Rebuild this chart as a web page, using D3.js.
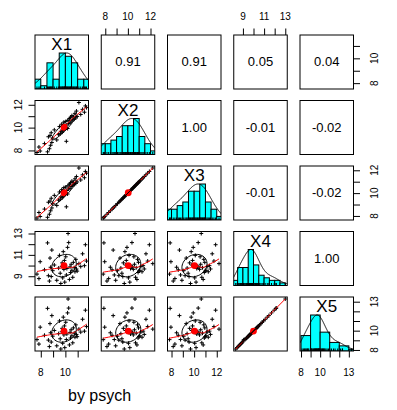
<!DOCTYPE html>
<html><head><meta charset="utf-8">
<script src="https://cdn.jsdelivr.net/npm/d3@7"></script>
<style>body{margin:0;background:#fff} svg text{font-family:"Liberation Sans",Arial,sans-serif}</style>
</head><body><svg id="c" width="397" height="410"></svg>
<script>
const varNames = ["X1","X2","X3","X4","X5"];
const X1 = [7.69,7.85,7.95,8.3,8.55,8.62,8.7,8.75,8.8,8.85,8.9,8.97,9.1,9.3,9.45,9.52,9.58,9.63,9.7,9.74,9.78,9.83,9.88,9.92,9.95,9.98,10.03,10.08,10.12,10.18,10.22,10.27,10.33,10.38,10.42,10.47,10.53,10.6,10.65,10.72,10.78,10.85,10.9,10.96,11.1,11.25,11.4,11.55,11.63,11.72];
const X2 = [7.82,8.3,7.95,8.6,7.88,9.2,8.15,9.3,8.45,9.55,8.7,9.08,9.8,8.92,9.38,10.1,9.47,9.68,10.3,9.6,10.05,9.74,10.48,9.86,10.17,9.97,10.53,8.8,10.23,9.92,10.63,10.36,10.8,10.42,10.9,10.58,11.05,10.68,10.94,10.74,11.25,10.85,11.45,10.98,12.2,11.15,11.6,11.35,11.9,11.75];
const X3 = [7.82,8.3,7.95,8.6,7.88,9.2,8.15,9.3,8.45,9.55,8.7,9.08,9.8,8.92,9.38,10.1,9.47,9.68,10.3,9.6,10.05,9.74,10.48,9.86,10.17,9.97,10.53,8.8,10.23,9.92,10.63,10.36,10.8,10.42,10.9,10.58,11.05,10.68,10.94,10.74,11.25,10.85,11.45,10.98,12.2,11.15,11.6,11.35,11.9,11.75];
const X4 = [9.2,8.78,10.36,9.6,12.12,9.05,8.55,10.7,9.84,8.97,11.45,9.52,10.05,8.62,9.76,10.95,9.28,8.32,9.93,10.25,8.85,11.3,9.64,10.48,8.45,9.96,10.82,9.12,9.72,11.7,13.0,12.15,8.7,9.87,9.35,10.12,9.56,8.9,10.3,9.8,9.42,10.58,9.68,9.48,10.18,9.9,11.1,9.99,11.95,10.42];
const X5 = [9.07,8.61,10.36,9.52,12.31,9.02,8.35,10.73,9.78,8.82,11.56,9.43,10.02,8.43,9.69,11.01,9.16,8.10,9.88,10.24,8.69,11.40,9.56,10.49,8.24,9.92,10.87,9.08,9.65,11.84,13.28,12.34,8.52,9.82,9.24,10.09,9.47,8.74,10.29,9.74,9.32,10.60,9.61,9.38,10.16,9.85,11.18,9.95,12.12,10.42];
const corText = [
  ["", "0.91", "0.91", "0.05", "0.04"],
  ["", "", "1.00", "-0.01", "-0.02"],
  ["", "", "", "-0.01", "-0.02"],
  ["", "", "", "", "1.00"],
  ["", "", "", "", ""]
];
const tickValues = [[8,9,10,11],[8,9,10,11,12],[8,9,10,11,12],[9,10,11,12,13],[8,9,10,11,12,13]];
const tickLabels = [[8,10],[8,10,12],[8,10,12],[9,11,13],[8,10,13]];
const footer = "by psych";

const data = [X1,X2,X3,X4,X5];
const N = data.length;
const X0 = 35, Y0 = 35, PW = 53.5, PH = 54, DX = 66.25, DY = 65.5;

const svg = d3.select("#c");
svg.append("rect").attr("width",397).attr("height",410).attr("fill","#fff");

const xS = data.map(v => { const [a,b] = d3.extent(v); const r=b-a; return d3.scaleLinear([a-0.04*r, b+0.04*r],[0,PW]); });
const yS = data.map(v => { const [a,b] = d3.extent(v); const r=b-a; return d3.scaleLinear([a-0.04*r, b+0.04*r],[PH,0]); });
const yH = d3.scaleLinear([0,1.5],[PH,0]);

function cor(a,b){const ma=d3.mean(a),mb=d3.mean(b);let sab=0,saa=0,sbb=0;for(let i=0;i<a.length;i++){sab+=(a[i]-ma)*(b[i]-mb);saa+=(a[i]-ma)**2;sbb+=(b[i]-mb)**2;}return sab/Math.sqrt(saa*sbb);}
function lowess(xs, ys, f=2/3, iter=3){
  const n=xs.length;
  const order=d3.range(n).sort((a,b)=>xs[a]-xs[b]);
  const x=order.map(i=>xs[i]), y=order.map(i=>ys[i]);
  const ns=Math.max(2, Math.min(n, Math.floor(f*n+1e-7)));
  let rw=new Array(n).fill(1); const fit=new Array(n).fill(0);
  for(let it=0; it<=iter; it++){
    for(let i=0;i<n;i++){
      const d=x.map(v=>Math.abs(v-x[i]));
      const h=Math.max(d.slice().sort((a,b)=>a-b)[ns-1], 1e-9);
      let sw=0,sx=0,sy=0; const w=new Array(n);
      for(let j=0;j<n;j++){const r=d[j]/h;let wj=r<1?Math.pow(1-r*r*r,3):0;wj*=rw[j];w[j]=wj;sw+=wj;sx+=wj*x[j];sy+=wj*y[j];}
      if(sw<=0){fit[i]=y[i];continue;}
      const mx=sx/sw,my=sy/sw;let sxx=0,sxy=0;
      for(let j=0;j<n;j++){sxx+=w[j]*(x[j]-mx)**2;sxy+=w[j]*(x[j]-mx)*(y[j]-my);}
      const b=sxx>1e-12?sxy/sxx:0; fit[i]=my+b*(x[i]-mx);
    }
    if(it===iter) break;
    const res=y.map((v,i)=>v-fit[i]);
    const m=d3.median(res.map(Math.abs));
    if(!(m>1e-12)) break;
    rw=res.map(r=>{const u=r/(6*m);return Math.abs(u)<1?(1-u*u)**2:0;});
  }
  return x.map((v,i)=>[v,fit[i]]);
}
function density(x){
  const s=d3.deviation(x), q1=d3.quantile(x,0.25), q3=d3.quantile(x,0.75);
  const bw=1.06*Math.min(s,(q3-q1)/1.34)*Math.pow(x.length,-0.2)*1.2;
  const [a,b]=d3.extent(x); const lo=a-3*bw, hi=b+3*bw;
  const pts=d3.range(512).map(k=>{const g=lo+(hi-lo)*k/511;let sum=0;for(const v of x){const u=(g-v)/bw;sum+=Math.exp(-0.5*u*u);}return [g,sum];});
  const mx=d3.max(pts,p=>p[1]); return pts.map(p=>[p[0],p[1]/mx]);
}

const defs = svg.append("defs");
defs.append("clipPath").attr("id","pc").append("rect").attr("width",PW).attr("height",PH);

for(let i=0;i<N;i++){
  for(let j=0;j<N;j++){
    const g = svg.append("g").attr("transform",`translate(${X0+j*DX},${Y0+i*DY})`);
    const inner = g.append("g").attr("clip-path","url(#pc)");
    if(i===j){
      const v=data[i], xs=xS[i];
      const [a,b]=d3.extent(v);
      const step=d3.tickStep(a,b,Math.ceil(Math.log2(v.length)+1));
      const breaks=d3.range(Math.floor(a/step)*step, Math.ceil(b/step)*step+step/2, step);
      const counts=breaks.slice(0,-1).map((lo,k)=>v.filter(t=>t>lo+1e-9 && t<=breaks[k+1]+1e-9).length);
      const mc=d3.max(counts);
      inner.selectAll("rect.bar").data(counts).join("rect").attr("class","bar")
        .attr("x",(c,k)=>xs(breaks[k])).attr("width",(c,k)=>xs(breaks[k+1])-xs(breaks[k]))
        .attr("y",c=>yH(c/mc)).attr("height",c=>PH-yH(c/mc))
        .attr("fill","#00ffff").attr("stroke","#000").attr("stroke-width",1);
      inner.append("path").datum(density(v)).attr("d",d3.line(p=>xs(p[0]),p=>yH(p[1])))
        .attr("fill","none").attr("stroke","#000").attr("stroke-width",1);
      inner.selectAll("line.rug").data(v).join("line").attr("class","rug")
        .attr("x1",t=>xs(t)).attr("x2",t=>xs(t)).attr("y1",PH).attr("y2",PH-2.5)
        .attr("stroke","#000").attr("stroke-width",1);
      g.append("text").attr("x",PW/2).attr("y",15).attr("text-anchor","middle")
        .attr("font-size","17px").attr("fill","#000").text(varNames[i]);
    } else if(i>j){
      const vx=data[j], vy=data[i], xs=xS[j], ys=yS[i];
      const pts=vx.map((t,k)=>[t,vy[k]]);
      inner.append("path").attr("d",pts.map(p=>{const px=xs(p[0]),py=ys(p[1]);return `M${px-2},${py}H${px+2}M${px},${py-2}V${py+2}`;}).join(""))
        .attr("stroke","#000").attr("stroke-width",1).attr("fill","none");
      inner.append("path").datum(lowess(vx,vy)).attr("d",d3.line(p=>xs(p[0]),p=>ys(p[1])))
        .attr("fill","none").attr("stroke","#ff0000").attr("stroke-width",1);
      const xm=d3.mean(vx), ym=d3.mean(vy), sx=d3.deviation(vx), sy=d3.deviation(vy);
      let r=Math.max(-1,Math.min(1,cor(vx,vy)));
      const th=r!==0?Math.sign(r)/Math.SQRT2:1/Math.SQRT2;
      const A=Math.sqrt(1+r), B=Math.sqrt(Math.max(0,1-r));
      const ell=d3.range(52).map(k=>{const an=k*2*Math.PI/51,c=Math.cos(an),s=Math.sin(an);
        return [(c*A*th - s*B*th)*sx+xm, (c*A*th + s*B*th)*sy+ym];});
      inner.append("circle").attr("cx",xs(xm)).attr("cy",ys(ym)).attr("r",3.4).attr("fill","#ff0000");
      inner.append("path").datum(ell).attr("d",d3.line(p=>xs(p[0]),p=>ys(p[1])))
        .attr("fill","none").attr("stroke","#000").attr("stroke-width",1);
    } else {
      g.append("text").attr("x",PW/2).attr("y",PH/2+1).attr("text-anchor","middle")
        .attr("dominant-baseline","middle").attr("font-size","13px").attr("fill","#000").text(corText[i][j]);
    }
    g.append("rect").attr("width",PW).attr("height",PH).attr("fill","none").attr("stroke","#000").attr("stroke-width",1);

    // axes
    const lab = (k)=> tickLabels[k];
    if(i===0 && j%2===1){
      const ax=g.append("g").call(d3.axisTop(xS[j]).tickValues(tickValues[j]).tickSize(6.5).tickFormat(""));
      ax.select(".domain").remove(); ax.selectAll("line").attr("stroke","#000");
      g.selectAll(null).data(lab(j)).join("text").attr("x",t=>xS[j](t)).attr("y",-15).attr("text-anchor","middle").attr("font-size","10px").text(t=>t);
    }
    if(i===N-1 && j%2===0){
      const ax=g.append("g").attr("transform",`translate(0,${PH})`).call(d3.axisBottom(xS[j]).tickValues(tickValues[j]).tickSize(6.5).tickFormat(""));
      ax.select(".domain").remove(); ax.selectAll("line").attr("stroke","#000");
      g.selectAll(null).data(lab(j)).join("text").attr("x",t=>xS[j](t)).attr("y",PH+24.5).attr("text-anchor","middle").attr("font-size","10px").text(t=>t);
    }
    if(j===0 && i%2===1){
      const ax=g.append("g").call(d3.axisLeft(yS[i]).tickValues(tickValues[i]).tickSize(6.5).tickFormat(""));
      ax.select(".domain").remove(); ax.selectAll("line").attr("stroke","#000");
      g.selectAll(null).data(lab(i)).join("text").attr("transform",t=>`translate(-13.5,${yS[i](t)}) rotate(-90)`).attr("text-anchor","middle").attr("font-size","10px").text(t=>t);
    }
    if(j===N-1 && i%2===0){
      const ax=g.append("g").attr("transform",`translate(${PW},0)`).call(d3.axisRight(yS[i]).tickValues(tickValues[i]).tickSize(6.5).tickFormat(""));
      ax.select(".domain").remove(); ax.selectAll("line").attr("stroke","#000");
      g.selectAll(null).data(lab(i)).join("text").attr("transform",t=>`translate(${PW+24.5},${yS[i](t)}) rotate(-90)`).attr("text-anchor","middle").attr("font-size","10px").text(t=>t);
    }
  }
}
svg.append("text").attr("x",68).attr("y",401).attr("font-size","16px").attr("fill","#000").text(footer);
</script></body></html>
